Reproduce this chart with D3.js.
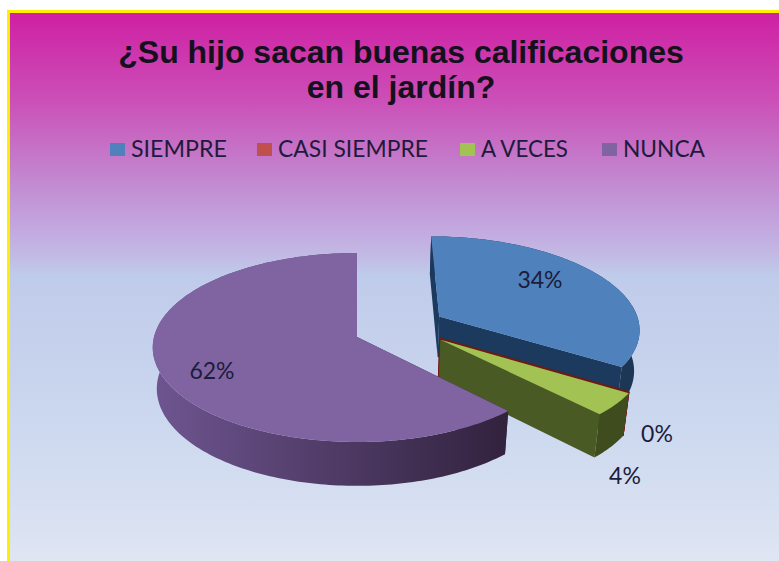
<!DOCTYPE html>
<html><head><meta charset="utf-8">
<script src="https://cdn.jsdelivr.net/npm/d3@7"></script>
<style>html,body{margin:0;padding:0;background:#fff}svg{display:block}</style>
</head><body><div id="c"></div>
<script>
const categories = ["SIEMPRE","CASI SIEMPRE","A VECES","NUNCA"];
const values = [34,0,4,62];
const titleLines = ["¿Su hijo sacan buenas calificaciones","en el jardín?"];
const topColors = ["#4f81bd","#c0504d","#a2c254","#8064a2"];
const wallColors = [["#1c3a5e","#1c3656"],["#701a14","#701a14"],["#4a5a24","#3f4c1e"],["#6e5590","#33233f"]];

const W=779,H=561;
const svg=d3.select("#c").append("svg").attr("width",W).attr("height",H);
const defs=svg.append("defs");
const bg=defs.append("linearGradient").attr("id","bg").attr("x1",0).attr("y1",0).attr("x2",0).attr("y2",1);
[[0,"#cf1fa2"],[.16,"#cb50b8"],[.3,"#c288d0"],[.38,"#c3a5de"],[.43,"#c2b8e4"],[.47,"#bfcbea"],[.75,"#cdd9ef"],[1,"#e0e6f3"]]
 .forEach(s=>bg.append("stop").attr("offset",s[0]).attr("stop-color",s[1]));
svg.append("rect").attr("x",8.5).attr("y",11.5).attr("width",W).attr("height",H).attr("fill","url(#bg)").attr("stroke","#ffee00").attr("stroke-width",3);

// title
svg.append("g").selectAll("text").data(titleLines).join("text")
 .attr("x",401).attr("y",(d,i)=>63+i*35).attr("text-anchor","middle")
 .attr("font-family","Liberation Sans").attr("font-weight","bold").attr("font-size",32).attr("fill","#14101c").text(d=>d);

// legend
const legX=[110,257,460,602], legW=[96,150,87,82];
const leg=svg.append("g").selectAll("g").data(categories).join("g").attr("transform",(d,i)=>`translate(${legX[i]},143)`);
leg.append("rect").attr("width",15).attr("height",13).attr("fill",(d,i)=>topColors[i]);
leg.append("text").attr("x",21).attr("y",14).attr("font-family","Lato").attr("font-size",23).attr("fill","#221a3a")
 .attr("textLength",(d,i)=>legW[i]).attr("lengthAdjust","spacingAndGlyphs").text(d=>d);

// pie in perspective
const cx=357,cy=337,R=203,Ry=93.3,k=.111,kz=.02,D=42;
const offsets=[[.415,-.225],[.41,.02],[.41,.03],[0,0]];
const arcs=d3.pie().sort(null).value(d=>d)(values);
function proj(u,v,z){const s=1/(1-k*v+kz*z);return [cx+R*u*s,cy+Ry*v*s+D*z*s];}
const pt=(a,r,o,z)=>proj(o[0]+r*Math.sin(a),o[1]-r*Math.cos(a),z);
const samples=(a0,a1)=>{const n=Math.max(2,Math.ceil((a1-a0)/.02));return d3.range(n+1).map(i=>a0+(a1-a0)*i/n);};
const line=d3.line();
const g=svg.append("g");
[0,1,2,3].forEach(i=>{
  const d=arcs[i],o=offsets[i],a0=d.startAngle,a1=d.endAngle;
  const gid="w"+i;
  const lg=defs.append("linearGradient").attr("id",gid).attr("gradientUnits","userSpaceOnUse")
    .attr("x1",proj(o[0]-1,0,0)[0]).attr("y1",0).attr("x2",proj(o[0]+.7,0,0)[0]).attr("y2",0);
  lg.append("stop").attr("offset",0).attr("stop-color",wallColors[i][0]);
  lg.append("stop").attr("offset",1).attr("stop-color",wallColors[i][1]);
  const ss=samples(a0,a1);
  const wall=ss.map(a=>pt(a,1,o,0)).concat(ss.slice().reverse().map(a=>pt(a,1,o,1)));
  const cut=a=>[proj(o[0],o[1],0),pt(a,1,o,0),pt(a,1,o,1),proj(o[0],o[1],1)];
  const top=[proj(o[0],o[1],0)].concat(ss.map(a=>pt(a,1,o,0)));
  const sw=i==1?2:0;
  const fillW=`url(#${gid})`;
  const dark=wallColors[i][i==3?1:0];
  const st=sel=>sel.attr("stroke",i==1?wallColors[1][0]:"none").attr("stroke-width",sw).attr("stroke-linejoin","round");
  st(g.append("path").attr("d",line(cut(a0))+"Z").attr("fill",dark));
  st(g.append("path").attr("d",line(cut(a1))+"Z").attr("fill",dark));
  st(g.append("path").attr("d",line(wall)+"Z").attr("fill",i==1?wallColors[1][0]:fillW));
  st(g.append("path").attr("d",line(top)+"Z").attr("fill",i==1?wallColors[1][0]:topColors[i]));
});

// data labels
const labelPos=[[540,280],[657,434],[625,476],[212,371]];
svg.append("g").selectAll("text").data(values).join("text")
 .attr("x",(d,i)=>labelPos[i][0]).attr("y",(d,i)=>labelPos[i][1]+8).attr("text-anchor","middle")
 .attr("font-family","Lato").attr("font-size",23).attr("fill","#1c1c3c").text(d=>d+"%");
</script></body></html>
